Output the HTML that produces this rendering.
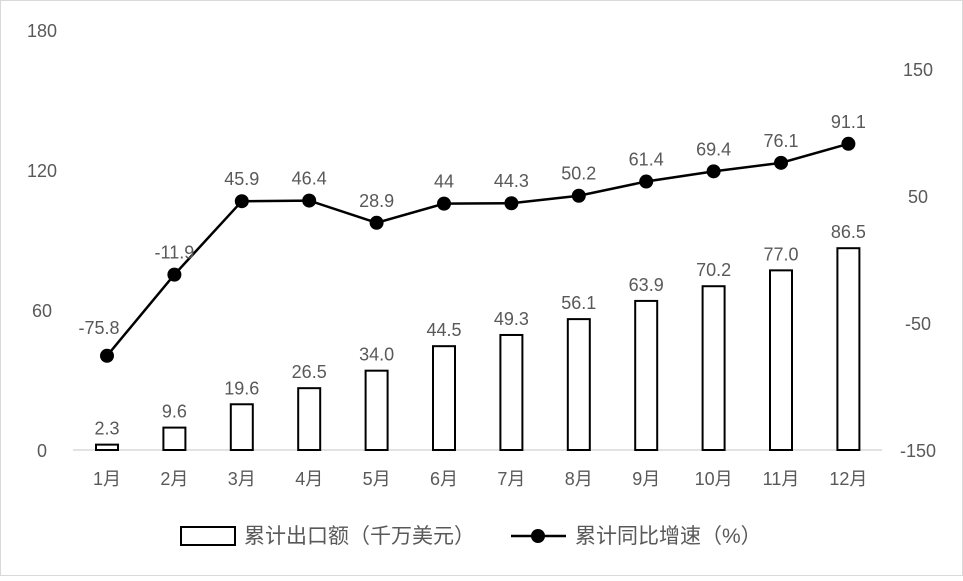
<!DOCTYPE html>
<html><head><meta charset="utf-8"><style>
body{margin:0;background:#fff}
svg text{font-family:"Liberation Sans","Noto Sans CJK SC",sans-serif;fill:#595959;font-size:18px}
svg text.lg{font-size:21px}
</style></head><body>
<svg width="963" height="576" xmlns="http://www.w3.org/2000/svg">
<rect x="0.5" y="0.5" width="962" height="575" fill="#fff" stroke="#d9d9d9"/>
<g text-anchor="middle">
<text x="42" y="37">180</text><text x="42" y="177">120</text><text x="42" y="317">60</text><text x="42" y="457">0</text>
<text x="918" y="76">150</text><text x="918" y="203">50</text><text x="918" y="330">-50</text><text x="918" y="457">-150</text>
</g>
<line x1="73" y1="450" x2="882" y2="450" stroke="#d9d9d9" stroke-width="1.5"/>
<g id="bars" fill="#fff" stroke="#000" stroke-width="2" text-anchor="middle"></g>
<polyline id="ln" fill="none" stroke="#000" stroke-width="2.5"/>
<g id="dots"></g>
<g text-anchor="middle" id="lbl"></g>
<rect x="181" y="527" width="54" height="18" fill="#fff" stroke="#000" stroke-width="2"/>
<text class="lg" x="244" y="543">累计出口额（千万美元）</text>
<line x1="511" y1="536" x2="566" y2="536" stroke="#000" stroke-width="2.5"/>
<circle cx="538" cy="536" r="7" fill="#000"/>
<text class="lg" x="575" y="543">累计同比增速（%）</text>
</svg>
<script>
var b=[2.3,9.6,19.6,26.5,34.0,44.5,49.3,56.1,63.9,70.2,77.0,86.5];
var g=[-75.8,-11.9,45.9,46.4,28.9,44,44.3,50.2,61.4,69.4,76.1,91.1];
var ns="http://www.w3.org/2000/svg";
function el(t,a,p,txt){var e=document.createElementNS(ns,t);for(var k in a)e.setAttribute(k,a[k]);if(txt!=null)e.textContent=txt;document.getElementById(p).appendChild(e);}
var pts=[];
for(var i=0;i<12;i++){
 var x=107+i*67.4;var h=b[i]*2.333;
 el('rect',{x:x-11,y:450-h,width:22,height:h},'bars');
 el('text',{x:x,y:450-h-10},'lbl',b[i].toFixed(1));
 var y=450-(g[i]+150)*1.27;pts.push(x+','+y);
 el('circle',{cx:x,cy:y,r:7,fill:'#000'},'dots');
 el('text',{x:(i==0?x-8:x),y:(i==0?y-22:y-16)},'lbl',String(g[i]));
 el('text',{x:x,y:485},'lbl',(i+1)+'月');
}
document.getElementById('ln').setAttribute('points',pts.join(' '));
</script>
</body></html>
